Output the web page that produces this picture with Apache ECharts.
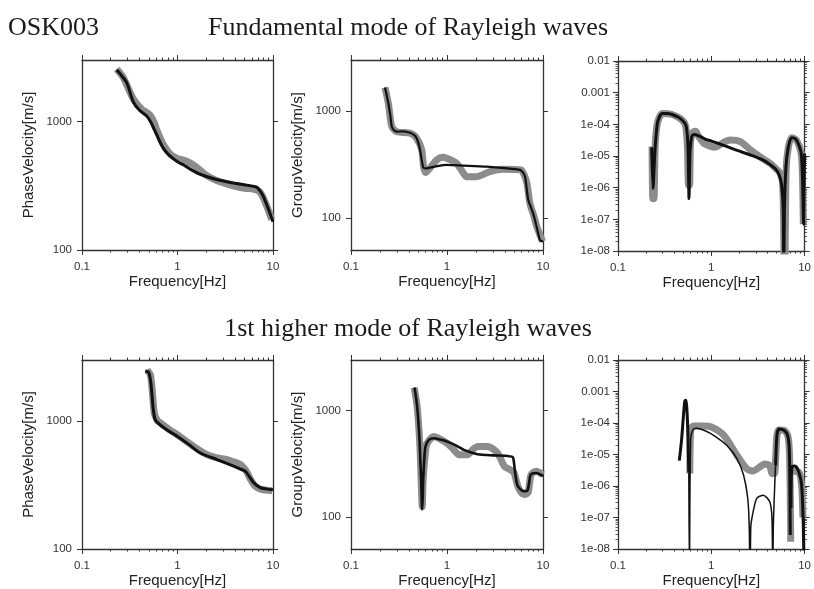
<!DOCTYPE html>
<html>
<head>
<meta charset="utf-8">
<script src="https://cdn.jsdelivr.net/npm/echarts@6/dist/echarts.min.js"></script>
<style>
  html, body { margin: 0; padding: 0; background: #fff; }
  #chart { width: 814px; height: 589px; }
</style>
</head>
<body>
<div id="chart"></div>
<script>
// ---- Tick values and labels ----
const freqTicks = [0.1, 1, 10];
const freqTickLabels = ['0.1', '1', '10'];
const freqMinorTicks = [0.2, 0.3, 0.4, 0.5, 0.6, 0.7, 0.8, 0.9, 2, 3, 4, 5, 6, 7, 8, 9];
const velTicks = [100, 1000];
const velTickLabels = ['100', '1000'];
const ampTicks = [1e-8, 1e-7, 1e-6, 1e-5, 1e-4, 1e-3, 1e-2];
const ampTickLabels = ['1e-08', '1e-07', '1e-06', '1e-05', '1e-04', '0.001', '0.01'];
const minorMantissas = [2, 3, 4, 5, 6, 7, 8, 9];
const ampMinorTicks = ampTicks.slice(0, -1).flatMap(d => minorMantissas.map(m => m * d));

// ---- Fundamental mode: [frequency Hz, value] ----
const fundPhaseObs = [[0.231,2550],[0.27,2200],[0.344,1500],[0.42,1250],[0.515,1120],[0.57,980],[0.606,860],[0.71,660],[0.85,550],[1.0,515],[1.25,490],[1.59,440],[2.02,380],[2.6,345],[3.85,315],[5.0,302],[6.2,298],[7.2,285],[7.9,255],[8.8,210],[9.7,172]];
const fundPhaseCalc = [[0.231,2520],[0.25,2350],[0.294,2000],[0.344,1420],[0.40,1220],[0.475,1100],[0.52,1000],[0.557,900],[0.60,800],[0.656,690],[0.73,600],[0.834,540],[1.0,485],[1.15,460],[1.4,420],[1.72,388],[2.5,355],[3.85,332],[5.5,318],[6.75,308],[7.5,280],[7.9,262],[8.8,215],[10,166]];

const fundGroupObs = [[0.226,1660],[0.245,1180],[0.266,715],[0.3,640],[0.41,620],[0.48,560],[0.545,432],[0.57,300],[0.6,265],[0.66,290],[0.78,348],[0.9,368],[1.0,360],[1.26,324],[1.45,270],[1.6,243],[2.04,243],[2.8,271],[3.86,285],[5.9,281],[6.4,250],[6.8,211],[7.3,137],[8.0,105],[8.6,83],[9.9,60]];
const fundGroupCalc = [[0.226,1660],[0.245,1180],[0.257,900],[0.266,715],[0.28,660],[0.299,640],[0.35,645],[0.412,625],[0.45,600],[0.483,556],[0.51,480],[0.524,432],[0.545,350],[0.566,295],[0.6,290],[0.665,295],[0.8,305],[0.99,313],[1.5,308],[2.59,301],[4.0,292],[5.76,281],[6.2,265],[6.5,243],[6.75,190],[7.03,147],[7.5,125],[7.9,110],[8.6,82],[9.3,62],[10,60]];

const fundAmpObs = [[0.232,2e-5],[0.236,4.5e-7],[0.243,4.5e-7],[0.25,2e-5],[0.264,1.05e-4],[0.298,2.2e-4],[0.38,2.05e-4],[0.483,1.4e-4],[0.53,9e-5],[0.555,2e-5],[0.57,1.2e-6],[0.585,1.2e-6],[0.6,3e-5],[0.64,5.7e-5],[0.68,6e-5],[0.72,4.5e-5],[0.85,2.4e-5],[1.1,1.9e-5],[1.38,2.8e-5],[1.6,3.2e-5],[2.07,2.8e-5],[2.6,1.6e-5],[3.4,9e-6],[4.3,5.8e-6],[5.0,3.8e-6],[5.4,3e-6],[5.8,1.5e-6],[5.95,1e-7],[6.05,1e-9],null,[6.15,1e-9],[6.35,4e-6],[6.7,1.9e-5],[7.24,3.8e-5],[8.17,3.2e-5],[9.2,1.2e-5],[9.5,2e-6],[9.7,7e-8]];
const fundAmpCalc = [[0.2296,1.9e-5],[0.237,9.3e-7],[0.249,1.5e-5],[0.264,1.05e-4],[0.28,1.8e-4],[0.298,2.2e-4],[0.34,2.2e-4],[0.38,2.05e-4],[0.44,1.7e-4],[0.483,1.4e-4],[0.53,1.0e-4],[0.552,5e-5],[0.565,1.2e-5],[0.577,4.5e-7],[0.59,1.2e-5],[0.61,3.5e-5],[0.626,4.5e-5],[0.66,4.8e-5],[0.724,4.4e-5],[0.85,3.5e-5],[1.0,2.96e-5],[1.4,2.1e-5],[1.9,1.5e-5],[2.7,1.05e-5],[3.64,7.3e-6],[4.4,5e-6],[5.0,3.6e-6],[5.4,2.3e-6],[5.67,1.2e-6],[5.9,2e-7],[5.97,1e-9],[6.08,2e-7],[6.31,4.5e-6],[6.68,1.9e-5],[7.24,3.8e-5],[7.7,3.7e-5],[8.17,3.2e-5],[8.8,2e-5],[9.2,1.2e-5],[9.45,3e-6],[9.6,5e-7],[9.75,7e-8],[9.85,8e-7],[10,1.2e-5]];

// ---- 1st higher mode ----
const highPhaseObs = [[0.48,2500],[0.52,2300],[0.545,1700],[0.572,1146],[0.62,1000],[0.66,970],[0.8,870],[1.0,780],[1.47,634],[2.04,547],[2.6,515],[3.3,500],[4.55,458],[5.2,410],[5.8,351],[6.5,310],[7.36,294],[9.8,285]];
const highPhaseCalc = [[0.46,2470],[0.499,2400],[0.515,2200],[0.528,1950],[0.554,1290],[0.57,1100],[0.586,1018],[0.66,931],[0.8,840],[1.0,757],[1.3,660],[1.73,563],[2.59,500],[3.87,444],[4.6,420],[5.13,406],[5.7,365],[6.27,330],[7.36,302],[8.5,295],[10,290]];

const highGroupObs = [[0.455,1650],[0.489,1089],[0.52,500],[0.54,200],[0.552,125],[0.565,230],[0.6,430],[0.622,495],[0.73,571],[0.85,540],[1.0,495],[1.15,440],[1.34,385],[1.64,385],[1.85,430],[2.08,461],[2.65,461],[3.37,399],[3.96,300],[4.66,275],[5.0,260],[5.47,195],[6.0,168],[6.43,163],[7.0,170],[7.5,250],[8.5,270],[10,250]];
const highGroupCalc = [[0.458,1652],[0.475,1350],[0.489,1089],[0.503,800],[0.517,532],[0.528,330],[0.538,225],[0.551,118],[0.558,150],[0.565,225],[0.58,350],[0.597,461],[0.647,532],[0.73,551],[0.85,535],[1.0,513],[1.25,470],[1.5,428],[2.08,390],[3.0,380],[3.96,377],[4.84,366],[4.95,340],[5.13,259],[5.3,215],[5.47,195],[6.0,178],[6.43,175],[6.9,178],[7.2,215],[7.43,250],[8.5,259],[10,242]];

const highAmpObs = [[0.588,2.5e-6],[0.595,3e-5],[0.61,7e-5],[0.65,8e-5],[0.8,8e-5],[1.0,7.5e-5],[1.37,4e-5],[1.89,9.3e-6],[2.4,3.5e-6],[2.8,3e-6],[3.3,4e-6],[3.7,5e-6],[4.2,4.5e-6],[4.5,2.5e-6],[4.75,2.5e-6],[4.9,8e-6],[5.05,4e-5],[5.3,6e-5],[6.07,5.8e-5],[6.6,4e-5],[6.85,1.5e-5],[7.0,1e-6],[7.1,1.7e-8],null,[7.3,3e-6],[8.7,2.7e-6],[9.3,1e-6],[9.6,1e-7]];
const highAmpCalcMain = [[0.454,6.4e-6],[0.481,3.1e-5],[0.505,2e-4],[0.521,5.1e-4],[0.536,5.3e-4],[0.548,2.5e-4],[0.556,1.05e-4],[0.566,1.5e-5],[0.574,2.7e-6],null,[4.89,4.5e-6],[5.05,4e-5],[5.3,6.4e-5],[6.07,5.8e-5],[6.58,4e-5],[6.85,1.5e-5],[6.95,1e-6],[7.02,2.8e-8],null,[7.15,2e-7],[7.3,4e-6],[7.9,4.3e-6],[8.7,2.7e-6],[9.3,1.05e-6],[9.68,5.8e-8],[9.9,1e-9]];
const highAmpCalcThin = [[0.574,2.7e-6],[0.585,1e-9],[0.592,1e-9],[0.6,3.1e-5],[0.637,6.2e-5],[0.69,6.8e-5],[0.845,5.8e-5],[1.07,4e-5],[1.48,1.9e-5],[1.89,7.3e-6],[2.22,2.2e-6],[2.46,4e-7],[2.55,5e-8],[2.6,1e-9],[2.65,5e-8],[2.72,9.3e-8],[3.06,4e-7],[3.6,5.1e-7],[4.22,3.2e-7],[4.47,9.3e-8],[4.55,1e-9],[4.62,5e-8],[4.7,2.5e-7],[4.84,2.7e-6],[4.89,4.5e-6]];

// ---- Panel layout ----
const SANS = '"Liberation Sans", Arial, sans-serif';
const SERIF = '"Liberation Serif", "Times New Roman", serif';
const INK = '#333333';
const GREY = '#8c8c8c';

const panels = [
  { box: { left: 82,  top: 60,  width: 191, height: 190 }, y: 'vel', yMin: 100,  yMax: 3000, yName: 'PhaseVelocity[m/s]',
    lines: [{ data: fundPhaseObs, color: GREY, width: 7 }, { data: fundPhaseCalc, color: '#111', width: 3 }] },
  { box: { left: 351, top: 60,  width: 192, height: 190 }, y: 'vel', yMin: 50,   yMax: 3000, yName: 'GroupVelocity[m/s]',
    lines: [{ data: fundGroupObs, color: GREY, width: 7 }, { data: fundGroupCalc, color: '#111', width: 2.2 }] },
  { box: { left: 618, top: 61,  width: 192, height: 190 }, y: 'amp', yMin: 1e-8, yMax: 1e-2, yName: '',
    lines: [{ data: fundAmpObs, color: GREY, width: 7 }, { data: fundAmpCalc, color: '#111', width: 3 }] },
  { box: { left: 82,  top: 360, width: 191, height: 191 }, y: 'vel', yMin: 100,  yMax: 3000, yName: 'PhaseVelocity[m/s]',
    lines: [{ data: highPhaseObs, color: GREY, width: 7 }, { data: highPhaseCalc, color: '#111', width: 3 }] },
  { box: { left: 351, top: 360, width: 192, height: 191 }, y: 'vel', yMin: 50,   yMax: 3000, yName: 'GroupVelocity[m/s]',
    lines: [{ data: highGroupObs, color: GREY, width: 7 }, { data: highGroupCalc, color: '#111', width: 2.6 }] },
  { box: { left: 618, top: 360, width: 192, height: 191 }, y: 'amp', yMin: 1e-8, yMax: 1e-2, yName: '',
    lines: [{ data: highAmpObs, color: GREY, width: 7 }, { data: highAmpCalcMain, color: '#111', width: 3 }, { data: highAmpCalcThin, color: '#111', width: 1.5 }] }
];

function labelFrom(ticks, labels) {
  return v => {
    for (let i = 0; i < ticks.length; i++) {
      if (Math.abs(Math.log10(v) - Math.log10(ticks[i])) < 1e-6) return labels[i];
    }
    return '';
  };
}

function logAxis(gi, min, max, position, opts) {
  return Object.assign({
    type: 'log', logBase: 10, gridIndex: gi, min: min, max: max, position: position,
    splitLine: { show: false },
    axisLine: { show: true, lineStyle: { color: INK, width: 1.3 } },
    axisTick: { show: true, inside: false, length: 5, lineStyle: { color: INK, width: 1 } },
    axisLabel: { show: false },
    silent: true
  }, opts);
}

const grids = [], xAxes = [], yAxes = [], series = [];

panels.forEach((p, gi) => {
  grids.push(Object.assign({ containLabel: false }, p.box));

  const xMain = xAxes.length;
  // bottom: major ticks with labels and axis name
  xAxes.push(logAxis(gi, 0.1, 10, 'bottom', {
    axisTick: { show: true, inside: false, length: 5, customValues: freqTicks, lineStyle: { color: INK, width: 1 } },
    axisLabel: { show: true, customValues: freqTicks, formatter: labelFrom(freqTicks, freqTickLabels),
                 fontFamily: SANS, fontSize: 11.5, color: '#333', margin: 11 },
    name: 'Frequency[Hz]', nameLocation: 'middle', nameGap: 24,
    nameTextStyle: { fontFamily: SANS, fontSize: 15, color: '#222' }
  }));
  // bottom minor ticks, top major and minor ticks
  xAxes.push(logAxis(gi, 0.1, 10, 'bottom', {
    axisLine: { show: false },
    axisTick: { show: true, inside: false, length: 2.5, customValues: freqMinorTicks, lineStyle: { color: INK, width: 1 } }
  }));
  xAxes.push(logAxis(gi, 0.1, 10, 'top', {
    axisTick: { show: true, inside: false, length: 5, customValues: freqTicks, lineStyle: { color: INK, width: 1 } }
  }));
  xAxes.push(logAxis(gi, 0.1, 10, 'top', {
    axisLine: { show: false },
    axisTick: { show: true, inside: false, length: 2.5, customValues: freqMinorTicks, lineStyle: { color: INK, width: 1 } }
  }));

  const ticks = p.y === 'vel' ? velTicks : ampTicks;
  const labels = p.y === 'vel' ? velTickLabels : ampTickLabels;
  const yMain = yAxes.length;
  yAxes.push(logAxis(gi, p.yMin, p.yMax, 'left', {
    axisTick: { show: true, inside: false, length: 5, customValues: ticks, lineStyle: { color: INK, width: 1 } },
    axisLabel: { show: true, customValues: ticks, formatter: labelFrom(ticks, labels),
                 fontFamily: SANS, fontSize: 11.5, color: '#333', margin: p.y === 'vel' ? 10 : 8 },
    name: p.yName, nameLocation: 'middle', nameGap: 46,
    nameTextStyle: { fontFamily: SANS, fontSize: 15, color: '#222' }
  }));
  yAxes.push(logAxis(gi, p.yMin, p.yMax, 'right', {
    axisTick: { show: true, inside: false, length: 5, customValues: ticks, lineStyle: { color: INK, width: 1 } }
  }));
  if (p.y === 'amp') {
    yAxes.push(logAxis(gi, p.yMin, p.yMax, 'left', {
      axisLine: { show: false },
      axisTick: { show: true, inside: false, length: 2.5, customValues: ampMinorTicks, lineStyle: { color: INK, width: 0.8 } }
    }));
    yAxes.push(logAxis(gi, p.yMin, p.yMax, 'right', {
      axisLine: { show: false },
      axisTick: { show: true, inside: false, length: 2.5, customValues: ampMinorTicks, lineStyle: { color: INK, width: 0.8 } }
    }));
  }

  p.lines.forEach(l => {
    series.push({
      type: 'line', xAxisIndex: xMain, yAxisIndex: yMain, data: l.data,
      showSymbol: false, symbol: 'none', smooth: 0.25, connectNulls: false, clip: true,
      silent: true, animation: false,
      lineStyle: { color: l.color, width: l.width, join: 'round' }
    });
  });
});

const chart = echarts.init(document.getElementById('chart'), null, { renderer: 'canvas' });
chart.setOption({
  backgroundColor: '#ffffff',
  animation: false,
  grid: grids,
  xAxis: xAxes,
  yAxis: yAxes,
  series: series,
  graphic: [
    { type: 'text', x: 8, y: 28, style: { text: 'OSK003', font: '26px ' + SERIF, fill: '#1a1a1a', align: 'left', verticalAlign: 'middle' } },
    { type: 'text', x: 408, y: 28, style: { text: 'Fundamental mode of Rayleigh waves', font: '26px ' + SERIF, fill: '#1a1a1a', align: 'center', verticalAlign: 'middle' } },
    { type: 'text', x: 408, y: 329, style: { text: '1st higher mode of Rayleigh waves', font: '26px ' + SERIF, fill: '#1a1a1a', align: 'center', verticalAlign: 'middle' } }
  ]
});
</script>
</body>
</html>
